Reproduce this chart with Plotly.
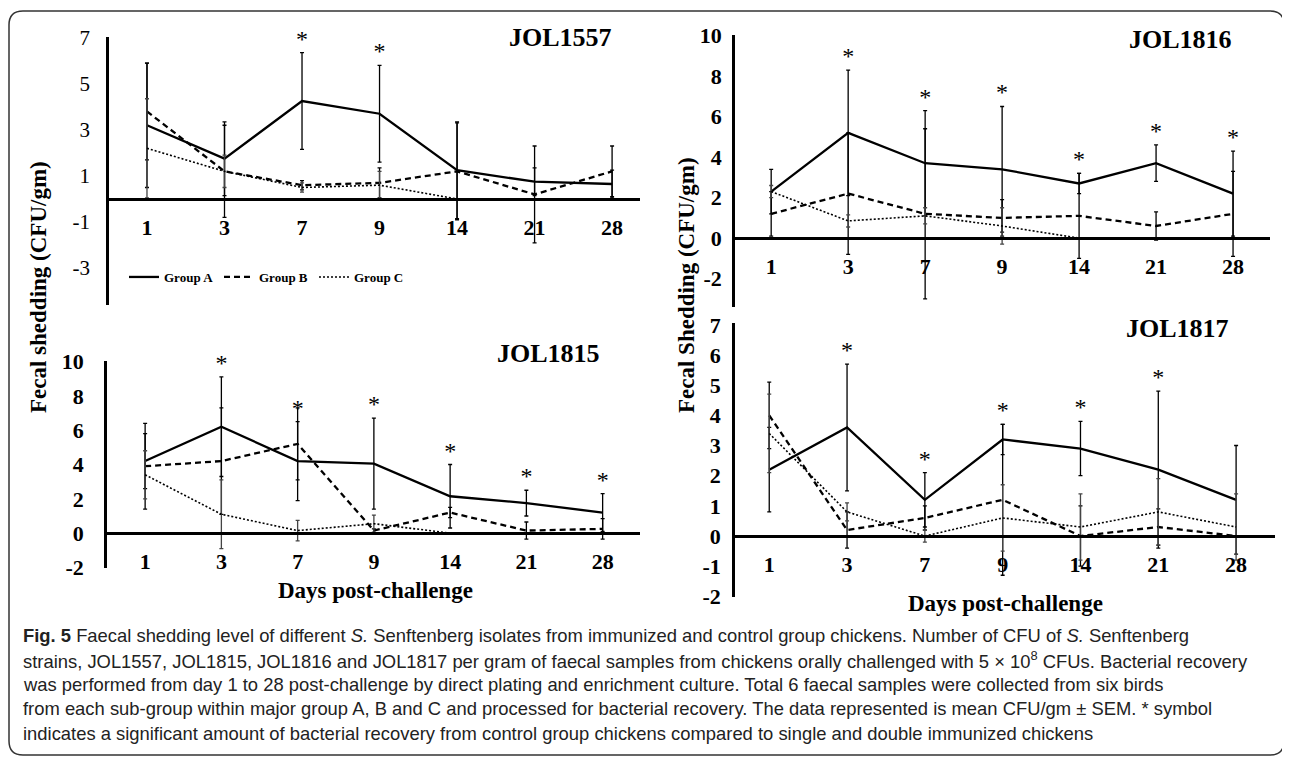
import plotly.graph_objects as go

W, H = 1290, 763
OX, OY = 8, 8  # page body margin offset of the figure inside the browser window

days = ["1", "3", "7", "9", "14", "21", "28"]
group_names = ["Group A", "Group B", "Group C"]

# JOL1557
jol1557_a = [3.2, 1.75, 4.25, 3.7, 1.25, 0.75, 0.65]
jol1557_a_err = [2.7, 1.6, 2.1, 2.1, 2.1, 0.6, 0.6]
jol1557_b = [3.8, 1.2, 0.6, 0.7, 1.2, 0.2, 1.2]
jol1557_b_err = [2.1, 2.0, 0.2, 0.65, 2.1, 2.1, 1.1]
jol1557_c = [2.2, 1.2, 0.5, 0.6, 0.0, 0.0, 0.0]
jol1557_c_err = [2.15, 0.7, 0.2, 0.6, 0.0, 0.0, 0.0]
jol1557_sig = ["7", "9"]
jol1557_yticks = [-3, -1, 1, 3, 5, 7]

# JOL1816
jol1816_a = [2.3, 5.2, 3.7, 3.4, 2.7, 3.7, 2.2]
jol1816_a_err = [1.1, 3.1, 2.6, 3.1, 0.5, 0.9, 2.1]
jol1816_b = [1.2, 2.2, 1.2, 1.0, 1.1, 0.6, 1.2]
jol1816_b_err = [1.1, 3.0, 4.2, 0.9, 2.1, 0.7, 2.1]
jol1816_c = [2.3, 0.85, 1.1, 0.6, 0.0, 0.0, 0.0]
jol1816_c_err = [0.3, 0.3, 0.4, 0.9, 0.0, 0.0, 0.0]
jol1816_sig = ["3", "7", "9", "14", "21", "28"]
jol1816_yticks = [-2, 0, 2, 4, 6, 8, 10]

# JOL1815
jol1815_a = [4.2, 6.2, 4.2, 4.05, 2.15, 1.75, 1.2]
jol1815_a_err = [1.6, 2.9, 2.3, 2.65, 1.85, 0.75, 1.1]
jol1815_b = [3.9, 4.2, 5.2, 0.15, 1.2, 0.15, 0.25]
jol1815_b_err = [2.5, 3.1, 2.1, 0.1, 0.3, 0.5, 0.6]
jol1815_c = [3.4, 1.1, 0.15, 0.55, 0.0, 0.0, 0.0]
jol1815_c_err = [1.4, 2.0, 0.6, 0.5, 0.0, 0.0, 0.0]
jol1815_sig = ["3", "7", "9", "14", "21", "28"]
jol1815_yticks = [-2, 0, 2, 4, 6, 8, 10]

# JOL1817
jol1817_a = [2.2, 3.6, 1.2, 3.2, 2.9, 2.2, 1.2]
jol1817_a_err = [1.4, 2.1, 0.9, 0.5, 0.9, 2.6, 1.8]
jol1817_b = [4.0, 0.2, 0.6, 1.2, 0.0, 0.3, 0.0]
jol1817_b_err = [1.1, 0.6, 0.4, 2.5, 1.0, 0.6, 0.0]
jol1817_c = [3.4, 0.8, 0.0, 0.6, 0.3, 0.8, 0.3]
jol1817_c_err = [1.3, 0.3, 0.2, 1.1, 1.1, 1.1, 1.1]
jol1817_sig = ["3", "7", "9", "14", "21"]
jol1817_yticks = [-2, -1, 0, 1, 2, 3, 4, 5, 6, 7]

SERIF = "Times New Roman, Liberation Serif, serif"


def px(x):
    return (x - OX) / W


def py(y):
    return 1 - (y - OY) / H


panels = [
    dict(name="JOL1557", a=jol1557_a, ae=jol1557_a_err, b=jol1557_b, be=jol1557_b_err,
         c=jol1557_c, ce=jol1557_c_err, sig=jol1557_sig, yt=jol1557_yticks,
         xd=(109, 640), yd=(37, 305), yr=(-4.6, 7.03), xr=(-0.49, 6.36),
         ybold=False, ystand=12, title=(560, 37)),
    dict(name="JOL1816", a=jol1816_a, ae=jol1816_a_err, b=jol1816_b, be=jol1816_b_err,
         c=jol1816_c, ce=jol1816_c_err, sig=jol1816_sig, yt=jol1816_yticks,
         xd=(735, 1270), yd=(35, 307), yr=(-3.4, 10.03), xr=(-0.47, 6.48),
         ybold=True, ystand=6, title=(1180, 40)),
    dict(name="JOL1815", a=jol1815_a, ae=jol1815_a_err, b=jol1815_b, be=jol1815_b_err,
         c=jol1815_c, ce=jol1815_c_err, sig=jol1815_sig, yt=jol1815_yticks,
         xd=(107, 640), yd=(361, 568), yr=(-2.03, 10.03), xr=(-0.5, 6.49),
         ybold=True, ystand=16, title=(548, 353)),
    dict(name="JOL1817", a=jol1817_a, ae=jol1817_a_err, b=jol1817_b, be=jol1817_b_err,
         c=jol1817_c, ce=jol1817_c_err, sig=jol1817_sig, yt=jol1817_yticks,
         xd=(735, 1275), yd=(323, 597), yr=(-2.02, 7.06), xr=(-0.44, 6.5),
         ybold=True, ystand=7, title=(1177, 328)),
]

fig = go.Figure()
layout = {}
annotations = []

styles = [
    dict(dash="solid", width=2.3),
    dict(dash="6px,4px", width=2.3),
    dict(dash="2px,2px", width=1.6),
]

for i, p in enumerate(panels, start=1):
    xa = "x" if i == 1 else f"x{i}"
    ya = "y" if i == 1 else f"y{i}"
    xidx = list(range(len(days)))
    series = [(p["a"], p["ae"]), (p["b"], p["be"]), (p["c"], p["ce"])]
    for g, (vals, errs) in enumerate(series):
        fig.add_trace(go.Scatter(
            x=xidx, y=vals, mode="lines", name=group_names[g],
            line=dict(color="black", **styles[g]),
            error_y=dict(type="data", array=errs, symmetric=True,
                         color="black" if g < 2 else "#444", thickness=1.3, width=2),
            xaxis=xa, yaxis=ya, showlegend=(i == 1), cliponaxis=False,
        ))
    # significance asterisks above group A error bars
    sx = [days.index(d) for d in p["sig"]]
    sy = [p["a"][k] + p["ae"][k] for k in sx]
    fig.add_trace(go.Scatter(
        x=sx, y=sy, mode="text", text=["*"] * len(sx), textposition="top center",
        textfont=dict(family=SERIF, size=24, color="black"),
        xaxis=xa, yaxis=ya, showlegend=False, cliponaxis=False, hoverinfo="skip",
    ))

    y0, y1 = p["yd"]
    dom_bot, dom_top = py(y1), py(y0)
    rmin, rmax = p["yr"]
    zero_pos = dom_bot + (0 - rmin) / (rmax - rmin) * (dom_top - dom_bot)

    layout["xaxis" if i == 1 else f"xaxis{i}"] = dict(
        domain=[px(p["xd"][0]), px(p["xd"][1])], range=list(p["xr"]),
        anchor="free", position=zero_pos,
        showline=True, linecolor="black", linewidth=2.5,
        tickmode="array", tickvals=list(range(len(days))), ticktext=days,
        ticks="", showgrid=False, zeroline=False, ticklabelstandoff=8,
        tickfont=dict(family=SERIF, size=22, color="black", weight="bold"),
    )
    layout["yaxis" if i == 1 else f"yaxis{i}"] = dict(
        domain=[dom_bot, dom_top], range=[rmin, rmax], anchor=xa,
        showline=True, linecolor="black", linewidth=2.5,
        tickmode="array", tickvals=p["yt"], ticktext=[str(v) for v in p["yt"]],
        ticks="", showgrid=False, zeroline=False,
        ticklabelstandoff=p["ystand"],
        tickfont=dict(family=SERIF, size=21 if not p["ybold"] else 22, color="black",
                      weight="bold" if p["ybold"] else "normal"),
    )
    annotations.append(dict(
        text=p["name"], x=px(p["title"][0]), y=py(p["title"][1]), xref="paper", yref="paper",
        showarrow=False, xanchor="center", yanchor="middle",
        font=dict(family=SERIF, size=26, color="black", weight="bold"),
    ))

# axis titles
axis_titles = [
    dict(text="Fecal shedding (CFU/gm)", x=px(38), y=py(287), textangle=-90),
    dict(text="Fecal Shedding (CFU/gm)", x=px(687), y=py(285), textangle=-90),
    dict(text="Days post-challenge", x=px(375), y=py(590)),
    dict(text="Days post-challenge", x=px(1005), y=py(603)),
]
for a in axis_titles:
    a.update(xref="paper", yref="paper", showarrow=False, xanchor="center", yanchor="middle",
             font=dict(family=SERIF, size=23, color="black", weight="bold"))
annotations += axis_titles

caption_lines = [
    "<b>Fig. 5</b> Faecal shedding level of different <i>S.</i> Senftenberg isolates from immunized and control group chickens. Number of CFU of <i>S.</i> Senftenberg",
    "strains, JOL1557, JOL1815, JOL1816 and JOL1817 per gram of faecal samples from chickens orally challenged with 5 × 10<sup>8</sup> CFUs. Bacterial recovery",
    "was performed from day 1 to 28 post-challenge by direct plating and enrichment culture. Total 6 faecal samples were collected from six birds",
    "from each sub-group within major group A, B and C and processed for bacterial recovery. The data represented is mean CFU/gm ± SEM. * symbol",
    "indicates a significant amount of bacterial recovery from control group chickens compared to single and double immunized chickens",
]
caption_y = [635, 659.5, 684, 708.5, 733]
for line, yy in zip(caption_lines, caption_y):
    annotations.append(dict(
        text=line, x=px(21), y=py(yy), xref="paper", yref="paper", showarrow=False,
        xanchor="left", yanchor="middle",
        font=dict(family="Liberation Sans, Arial, sans-serif", size=18.4, color="#222"),
    ))

# rounded frame
fl, ft, fr, fb, r = 9, 11, 1284, 755, 14
path = (f"M {px(fl + r)},{py(ft)} L {px(fr - r)},{py(ft)} Q {px(fr)},{py(ft)} {px(fr)},{py(ft + r)} "
        f"L {px(fr)},{py(fb - r)} Q {px(fr)},{py(fb)} {px(fr - r)},{py(fb)} "
        f"L {px(fl + r)},{py(fb)} Q {px(fl)},{py(fb)} {px(fl)},{py(fb - r)} "
        f"L {px(fl)},{py(ft + r)} Q {px(fl)},{py(ft)} {px(fl + r)},{py(ft)} Z")

fig.update_layout(
    width=W, height=H, margin=dict(l=0, r=0, t=0, b=0, pad=0, autoexpand=False),
    paper_bgcolor="white", plot_bgcolor="rgba(0,0,0,0)",
    annotations=annotations,
    shapes=[dict(type="path", path=path, xref="paper", yref="paper",
                 line=dict(color="#333", width=1.5), fillcolor="rgba(0,0,0,0)")],
    legend=dict(orientation="h", x=px(124), y=py(277), xanchor="left", yanchor="middle",
                font=dict(family=SERIF, size=13, color="black", weight="bold"),
                bgcolor="rgba(0,0,0,0)", itemwidth=30, tracegroupgap=0,
                entrywidth=50, entrywidthmode="pixels"),
    showlegend=True,
    **layout,
)

fig.write_html("out.html")
